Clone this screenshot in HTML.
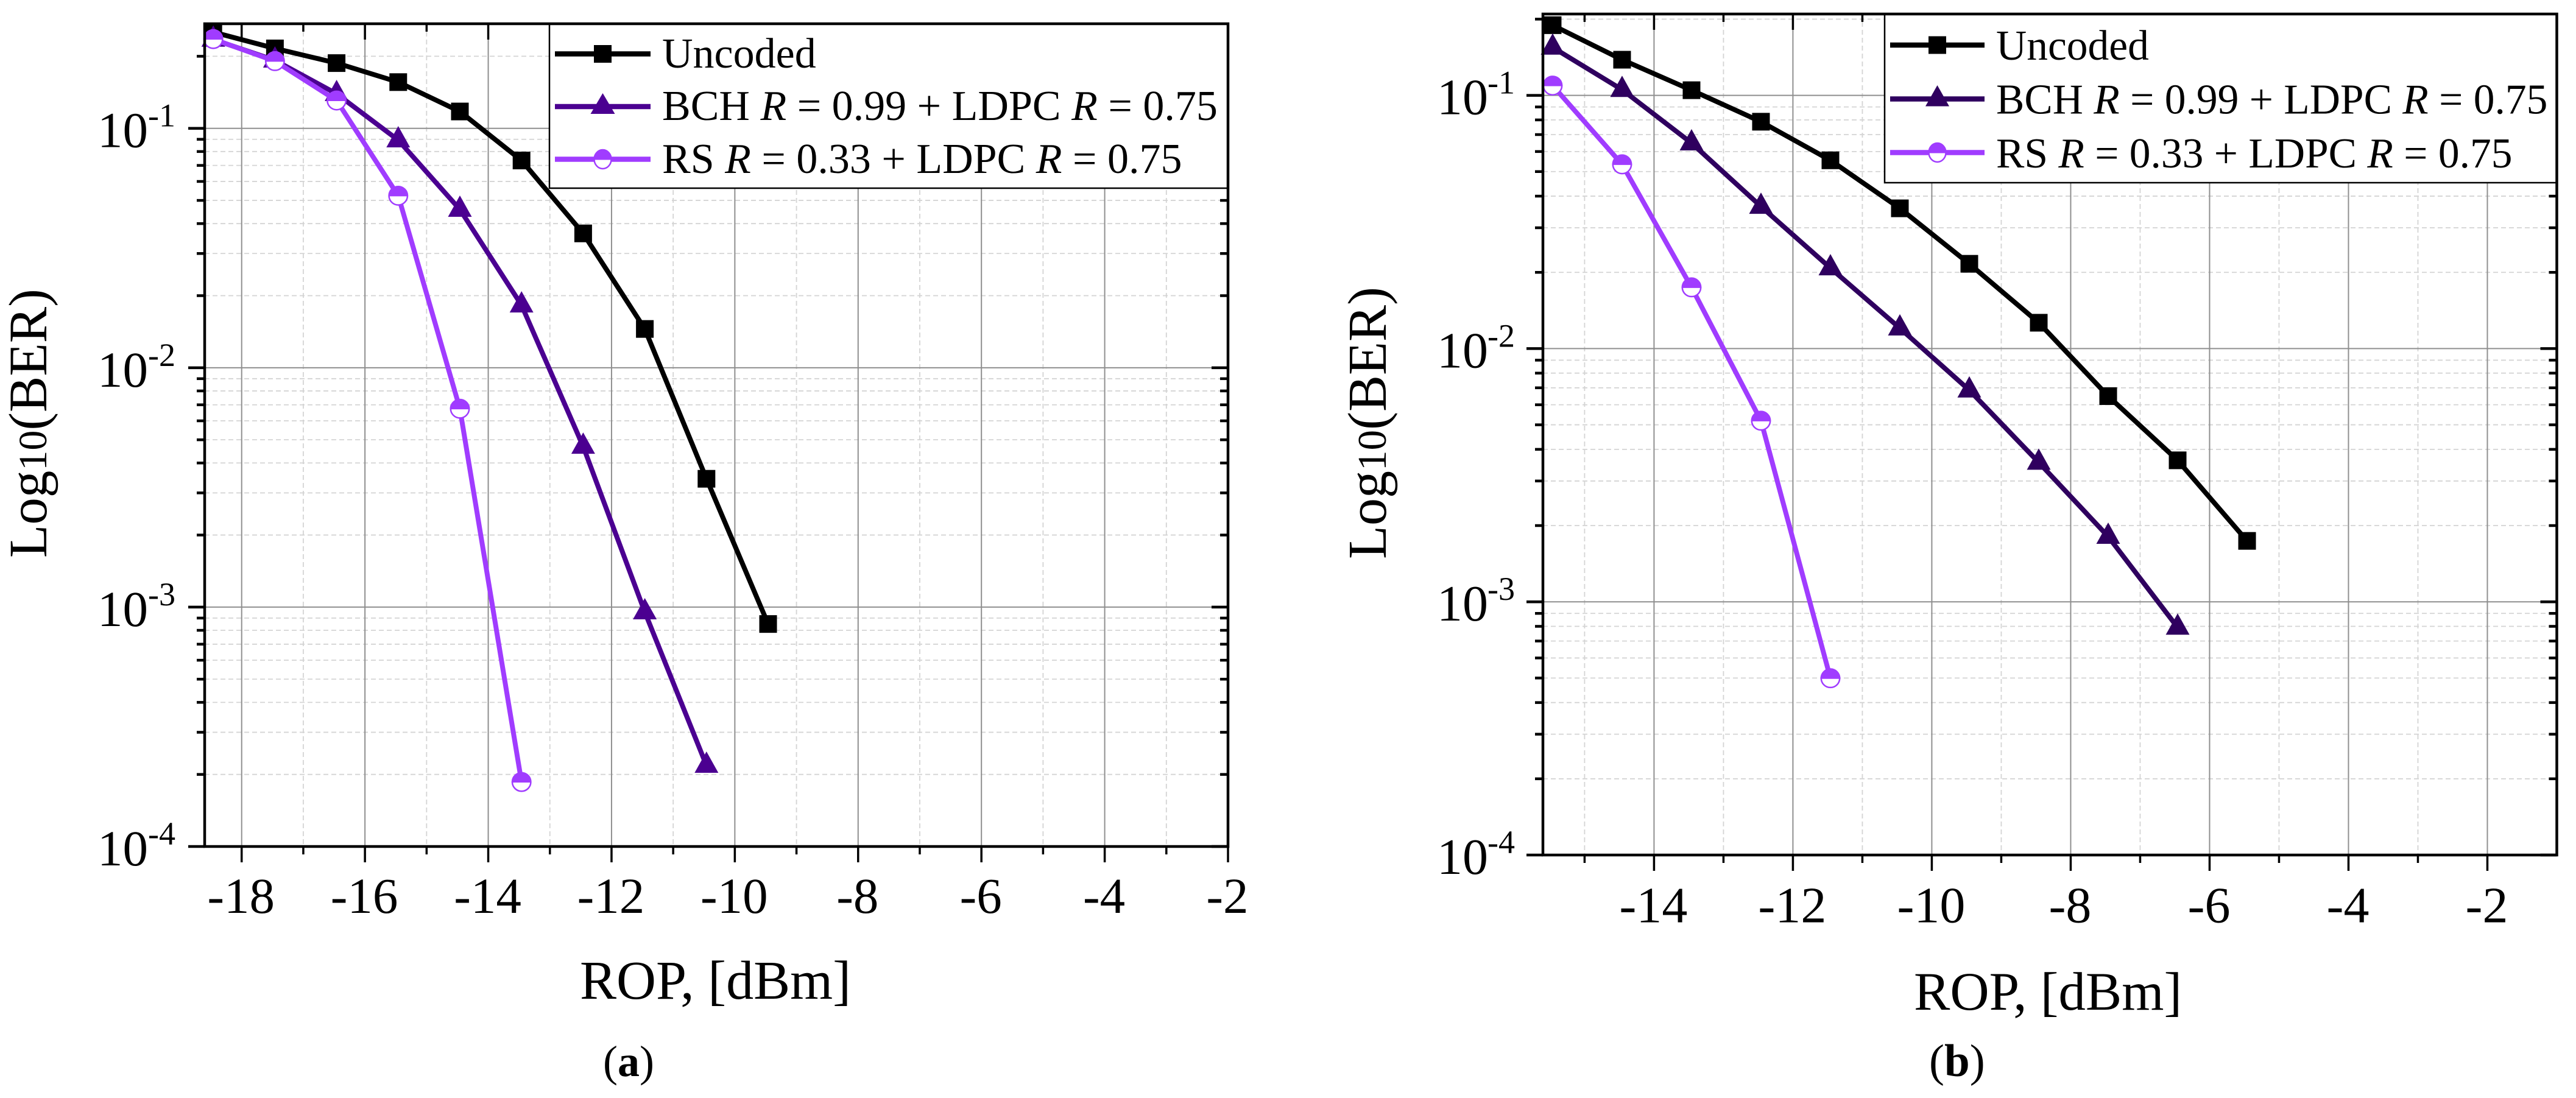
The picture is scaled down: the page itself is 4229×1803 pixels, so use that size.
<!DOCTYPE html>
<html lang="en">
<head>
<meta charset="utf-8">
<title>BER versus ROP charts</title>
<style>
html,body{margin:0;padding:0;background:#fff;width:4229px;height:1803px;overflow:hidden}
svg{display:block}
text{font-family:"Liberation Serif","Times New Roman",serif;fill:#000}
</style>
</head>
<body>
<svg id="figure" xmlns="http://www.w3.org/2000/svg" width="4229" height="1803" viewBox="0 0 4229 1803">
  <rect x="0" y="0" width="4229" height="1803" fill="#fff"/>
  <g id="panel-a"></g>
  <g id="panel-b"></g>

  <text transform="translate(76 916) rotate(-90)" font-size="89">Log<tspan font-size="66">10</tspan>(BER)</text>
  <text x="952" y="1640" font-size="90">ROP, [dBm]</text>
  <text x="990" y="1767" font-size="72">(<tspan font-weight="bold">a</tspan>)</text>

  <text transform="translate(2275 918) rotate(-90)" font-size="90">Log<tspan font-size="67">10</tspan>(BER)</text>
  <text x="3142" y="1658" font-size="89">ROP, [dBm]</text>
  <text x="3167" y="1767" font-size="75">(<tspan font-weight="bold">b</tspan>)</text>

  <g id="legend-a">
    <g>
      <line x1="911" y1="88.5" x2="1068" y2="88.5" stroke="#000" stroke-width="8.5"/>
      <rect x="975" y="74" width="29" height="29" fill="#000"/>
      <text x="1087" y="111" font-size="70">Uncoded</text>
    </g>
    <g>
      <line x1="911" y1="175" x2="1068" y2="175" stroke="#4B0091" stroke-width="8.5"/>
      <polygon points="989.5,153 1009.5,187 969.5,187" fill="#4B0091"/>
      <text x="1087" y="197" font-size="70">BCH <tspan font-style="italic">R</tspan> = 0.99 + LDPC <tspan font-style="italic">R</tspan> = 0.75</text>
    </g>
    <g>
      <line x1="911" y1="261.5" x2="1068" y2="261.5" stroke="#A03CFF" stroke-width="8.5"/>
      <ellipse cx="989.5" cy="261.5" rx="14" ry="15.5" fill="#fff" stroke="#A03CFF" stroke-width="2.5"/>
      <path d="M974.5 262.5 A15 16 0 0 1 1004.5 262.5 Z" fill="#A03CFF"/>
      <text x="1087" y="284" font-size="70">RS <tspan font-style="italic">R</tspan> = 0.33 + LDPC <tspan font-style="italic">R</tspan> = 0.75</text>
    </g>
  </g>

  <g id="legend-b">
    <g>
      <line x1="3103" y1="74" x2="3258" y2="74" stroke="#000" stroke-width="8.5"/>
      <rect x="3166" y="59.5" width="29" height="29" fill="#000"/>
      <text x="3277" y="98" font-size="69.5">Uncoded</text>
    </g>
    <g>
      <line x1="3103" y1="162.5" x2="3258" y2="162.5" stroke="#2F005F" stroke-width="8.5"/>
      <polygon points="3180.5,140 3200,174.5 3161,174.5" fill="#2F005F"/>
      <text x="3277" y="186.5" font-size="69.5">BCH <tspan font-style="italic">R</tspan> = 0.99 + LDPC <tspan font-style="italic">R</tspan> = 0.75</text>
    </g>
    <g>
      <line x1="3103" y1="250.5" x2="3258" y2="250.5" stroke="#A03CFF" stroke-width="8.5"/>
      <ellipse cx="3180.5" cy="250.5" rx="14" ry="15.5" fill="#fff" stroke="#A03CFF" stroke-width="2.5"/>
      <path d="M3165.5 251.5 A15 16 0 0 1 3195.5 251.5 Z" fill="#A03CFF"/>
      <text x="3277" y="275" font-size="69.5">RS <tspan font-style="italic">R</tspan> = 0.33 + LDPC <tspan font-style="italic">R</tspan> = 0.75</text>
    </g>
  </g>
</svg>

<script>
// Shared tick values
const yDecades = [-1, -2, -3, -4];
const yMinorFactors = [2, 3, 4, 5, 6, 7, 8, 9];

// Panel (a) data
const xMajorTicksA = [-18, -16, -14, -12, -10, -8, -6, -4, -2];
const xMinorTicksA = [-17, -15, -13, -11, -9, -7, -5, -3];
const ropUncodedA = [-18.46, -17.46, -16.46, -15.46, -14.46, -13.46, -12.46, -11.46, -10.46, -9.46];
const ropBchA = [-18.46, -17.46, -16.46, -15.46, -14.46, -13.46, -12.46, -11.46, -10.46];
const ropRsA = [-18.46, -17.46, -16.46, -15.46, -14.46, -13.46];
const berUncodedA = [0.2523, 0.2157, 0.1873, 0.1560, 0.1176, 0.0734, 0.0364, 0.01452, 0.003436, 0.000850];
const berBchA = [0.2351, 0.1924, 0.1394, 0.0893, 0.0458, 0.01825, 0.00469, 0.000954, 0.000218];
const berRsA = [0.2360, 0.1909, 0.1307, 0.0523, 0.00674, 0.000186];

// Panel (b) data
const xMajorTicksB = [-14, -12, -10, -8, -6, -4, -2];
const xMinorTicksB = [-15, -13, -11, -9, -7, -5, -3];
const ropUncodedB = [-15.46, -14.46, -13.46, -12.46, -11.46, -10.46, -9.46, -8.46, -7.46, -6.46, -5.46];
const ropBchB = [-15.46, -14.46, -13.46, -12.46, -11.46, -10.46, -9.46, -8.46, -7.46, -6.46];
const ropRsB = [-15.46, -14.46, -13.46, -12.46, -11.46];
const berUncodedB = [0.1893, 0.1383, 0.1048, 0.0787, 0.0554, 0.0358, 0.02162, 0.01265, 0.00649, 0.00362, 0.00174];
const berBchB = [0.1547, 0.1053, 0.0648, 0.0364, 0.0208, 0.01204, 0.00685, 0.00355, 0.00181, 0.000792];
const berRsB = [0.1093, 0.0534, 0.01745, 0.00519, 0.000499];

const SVG_NS = 'http://www.w3.org/2000/svg';

function make(tag, parent, attrs) {
  const el = document.createElementNS(SVG_NS, tag);
  for (const k in attrs) el.setAttribute(k, attrs[k]);
  parent.appendChild(el);
  return el;
}

function drawPanel(cfg) {
  const root = document.getElementById(cfg.rootId);
  const sx = v => cfg.left + (v - cfg.xMin) * (cfg.right - cfg.left) / (cfg.xMax - cfg.xMin);
  const sy = v => cfg.bottom - (Math.log10(v) - cfg.logMin) * (cfg.bottom - cfg.top) / (cfg.logMax - cfg.logMin);

  // Minor y values
  const minorYs = [];
  yDecades.forEach(d => yMinorFactors.forEach(f => {
    const v = f * Math.pow(10, d);
    if (Math.log10(v) < cfg.logMax) minorYs.push(v);
  }));

  // Grid
  const grid = make('g', root, {});
  
  
  minorYs.forEach(v => {
    const l = make('line', grid, {x1: cfg.left, x2: cfg.right, y1: sy(v), y2: sy(v), stroke: '#D4D4D4', 'stroke-width': 1.8, 'stroke-dasharray': '8 5'});
    
    
  });
  cfg.xMinor.forEach(v => {
    const l = make('line', grid, {x1: sx(v), x2: sx(v), y1: cfg.top, y2: cfg.bottom, stroke: '#D4D4D4', 'stroke-width': 1.8, 'stroke-dasharray': '8 5'});
    
    
  });
  yDecades.forEach(d => {
    const y = sy(Math.pow(10, d));
    const l = make('line', grid, {x1: cfg.left, x2: cfg.right, y1: y, y2: y, stroke: '#8F8F8F', 'stroke-width': 2});
    
    
  });
  cfg.xMajor.forEach(v => {
    const l = make('line', grid, {x1: sx(v), x2: sx(v), y1: cfg.top, y2: cfg.bottom, stroke: '#8F8F8F', 'stroke-width': 2});
    
    
  });

  // Ticks
  const ticks = make('g', root, {stroke: '#000'});
  
  
  const xTick = (v, len) => {
    const a = make('line', ticks, {x1: sx(v), x2: sx(v), y1: cfg.bottom, y2: cfg.bottom + len, 'stroke-width': 3.5});
    
    
    const b = make('line', ticks, {x1: sx(v), x2: sx(v), y1: cfg.top, y2: cfg.top + len, 'stroke-width': 3.5});
    
    
  };
  const yTick = (v, len) => {
    const a = make('line', ticks, {x1: cfg.left - len, x2: cfg.left, y1: sy(v), y2: sy(v), 'stroke-width': 4.5});
    
    
    const b = make('line', ticks, {x1: cfg.right - len, x2: cfg.right, y1: sy(v), y2: sy(v), 'stroke-width': 4.5});
    
    
  };
  cfg.xMajor.forEach(v => xTick(v, 26));
  cfg.xMinor.forEach(v => xTick(v, 13));
  yDecades.forEach(d => yTick(Math.pow(10, d), 27));
  minorYs.forEach(v => yTick(v, 13));

  // Legend background
  const box = make('rect', root, {x: cfg.legend[0], y: cfg.legend[1], width: cfg.legend[2] - cfg.legend[0], height: cfg.legend[3] - cfg.legend[1], fill: '#fff', stroke: '#000', 'stroke-width': 2.5});
  
  

  // Series
  cfg.series.forEach(s => {
    const g = make('g', root, {});
    
    
    const pts = s.x.map((v, i) => sx(v).toFixed(1) + ',' + sy(s.y[i]).toFixed(1)).join(' ');
    const line = make('polyline', g, {points: pts, fill: 'none', stroke: s.color, 'stroke-width': cfg.lineWidth, 'stroke-linejoin': 'round'});
    
    
    s.x.forEach((v, i) => {
      const cx = sx(v), cy = sy(s.y[i]);
      let m;
      if (s.marker === 'square') {
        m = make('rect', g, {x: cx - 14.5, y: cy - 14.5, width: 29, height: 29, fill: s.color});
      } else if (s.marker === 'triangle') {
        m = make('polygon', g, {points: cx + ',' + (cy - 23) + ' ' + (cx + 19.5) + ',' + (cy + 12) + ' ' + (cx - 19.5) + ',' + (cy + 12), fill: s.color});
      } else {
        m = make('g', g, {});
        make('circle', m, {cx: cx, cy: cy, r: 15.2, fill: '#fff', stroke: s.color, 'stroke-width': 2.5});
        make('path', m, {d: 'M' + (cx - 16.4) + ' ' + (cy + 1) + ' A16.4 16.4 0 0 1 ' + (cx + 16.4) + ' ' + (cy + 1) + ' Z', fill: s.color});
      }
      
      
    });
  });

  // Frame
  const frame = make('rect', root, {x: cfg.left, y: cfg.top, width: cfg.right - cfg.left, height: cfg.bottom - cfg.top, fill: 'none', stroke: '#000', 'stroke-width': 4.5});
  
  

  // Tick labels
  cfg.xMajor.forEach(v => {
    const t = make('text', root, {x: sx(v) - 1, y: cfg.xLabelBase, 'font-size': cfg.tickFont, 'text-anchor': 'middle'});
    
    
    t.textContent = String(v);
  });
  yDecades.forEach(d => {
    const y = sy(Math.pow(10, d));
    const t = make('text', root, {'font-size': cfg.tickFont});
    
    
    const base = make('tspan', t, {x: cfg.yLabelX, y: y + 31});
    base.textContent = '10';
    const sup = make('tspan', t, {x: cfg.yLabelX + 83, y: y - 3, 'font-size': 54});
    sup.textContent = String(d);
  });
}

drawPanel({
  id: 'a', rootId: 'panel-a',
  left: 336, right: 2016, top: 39, bottom: 1390,
  xMin: -18.6, xMax: -2, logMin: -4, logMax: -0.5631,
  xMajor: xMajorTicksA, xMinor: xMinorTicksA,
  legend: [902, 39, 2016, 309],
  lineWidth: 8, tickFont: 83, xLabelBase: 1499, yLabelX: 160,
  series: [
    {name: 'uncoded', color: '#000000', marker: 'square', x: ropUncodedA, y: berUncodedA},
    {name: 'bch', color: '#4B0091', marker: 'triangle', x: ropBchA, y: berBchA},
    {name: 'rs', color: '#A03CFF', marker: 'circle', x: ropRsA, y: berRsA}
  ]
});

drawPanel({
  id: 'b', rootId: 'panel-b',
  left: 2533, right: 4197.5, top: 23, bottom: 1404,
  xMin: -15.6, xMax: -1, logMin: -4, logMax: -0.6787,
  xMajor: xMajorTicksB, xMinor: xMinorTicksB,
  legend: [3094, 23, 4197.5, 300],
  lineWidth: 8, tickFont: 84, xLabelBase: 1514.5, yLabelX: 2359,
  series: [
    {name: 'uncoded', color: '#000000', marker: 'square', x: ropUncodedB, y: berUncodedB},
    {name: 'bch', color: '#2F005F', marker: 'triangle', x: ropBchB, y: berBchB},
    {name: 'rs', color: '#A03CFF', marker: 'circle', x: ropRsB, y: berRsB}
  ]
});

// Keep legends and titles above the plotted panels
const figure = document.getElementById('figure');
figure.appendChild(document.getElementById('legend-a'));
figure.appendChild(document.getElementById('legend-b'));
</script>
</body>
</html>
